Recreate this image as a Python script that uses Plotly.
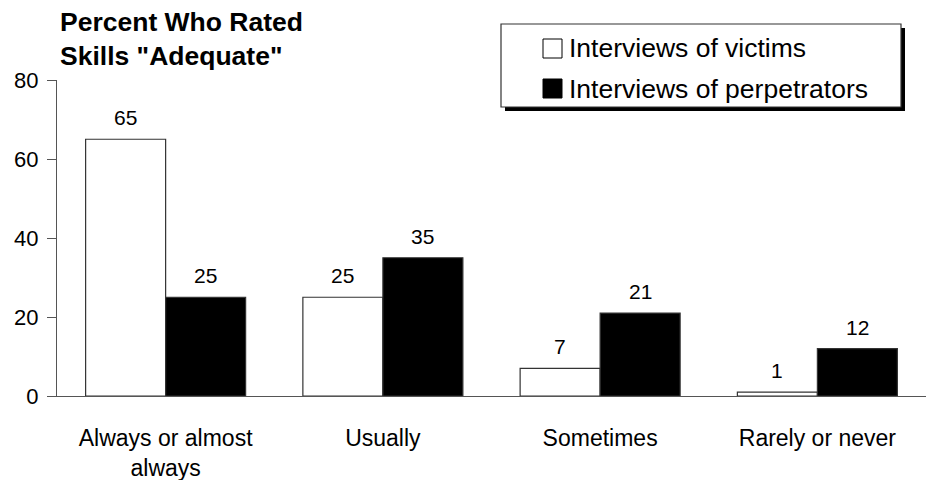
import plotly.graph_objects as go

# Survey results: percent who rated skills "Adequate"
categories = ["Always or almost<br>always", "Usually", "Sometimes", "Rarely or never"]
victims = [65, 25, 7, 1]
perpetrators = [25, 35, 21, 12]
series_names = ["Interviews of victims", "Interviews of perpetrators"]
y_ticks = [0, 20, 40, 60, 80]

FONT = "Arial, Liberation Sans, sans-serif"
W, H = 928, 480
M_L, M_R, M_T, M_B = 57, 2, 80, 84
PW, PH = W - M_L - M_R, H - M_T - M_B


def px_x(p):
    """Pixel column -> paper x."""
    return (p - M_L) / PW


def px_y(p):
    """Pixel row -> paper y."""
    return (H - M_B - p) / PH


fig = go.Figure()
fig.add_trace(go.Bar(
    x=categories, y=victims, name=series_names[0],
    marker=dict(color="white", line=dict(color="#333", width=1.2)),
    showlegend=False,
))
fig.add_trace(go.Bar(
    x=categories, y=perpetrators, name=series_names[1],
    marker=dict(color="black", line=dict(color="#333", width=1.2)),
    showlegend=False,
))

annotations = []
# value labels above each bar
for series, shift in ((victims, -40), (perpetrators, 40)):
    for cat, val in zip(categories, series):
        annotations.append(dict(
            x=cat, y=val, xref="x", yref="y", text=str(val),
            showarrow=False, xshift=shift, yshift=8, yanchor="bottom",
            font=dict(size=21, color="black", family=FONT),
        ))

# chart heading
annotations.append(dict(
    x=px_x(58), y=px_y(5), xref="paper", yref="paper",
    text="<b>Percent Who Rated<br>Skills \"Adequate\"</b>",
    showarrow=False, xanchor="left", yanchor="top", align="left",
    font=dict(size=26.5, color="black", family=FONT),
))

# legend entries
legend_rows = [(series_names[0], "white", 48.5), (series_names[1], "black", 88.5)]
shapes = [
    # legend shadow and frame
    dict(type="rect", xref="paper", yref="paper",
         x0=px_x(505), x1=px_x(905), y0=px_y(111), y1=px_y(28),
         fillcolor="black", line=dict(width=0), layer="above"),
    dict(type="rect", xref="paper", yref="paper",
         x0=px_x(501), x1=px_x(901), y0=px_y(107), y1=px_y(24),
         fillcolor="white", line=dict(color="#333", width=1.2), layer="above"),
]
for label, color, cy in legend_rows:
    shapes.append(dict(
        type="rect", xref="paper", yref="paper",
        x0=px_x(543), x1=px_x(562), y0=px_y(cy + 9.5), y1=px_y(cy - 9.5),
        fillcolor=color, line=dict(color="black", width=1), layer="above",
    ))
    annotations.append(dict(
        x=px_x(567), y=px_y(cy), xref="paper", yref="paper", text=label,
        showarrow=False, xanchor="left", yanchor="middle",
        font=dict(size=26.5, color="black", family=FONT),
    ))

fig.update_layout(
    width=W, height=H,
    margin=dict(l=M_L, r=M_R, t=M_T, b=M_B),
    paper_bgcolor="white", plot_bgcolor="white",
    barmode="group", bargap=0.2635, bargroupgap=0,
    font=dict(family=FONT, color="black"),
    annotations=annotations, shapes=shapes,
    xaxis=dict(
        showgrid=False, showline=True, linecolor="#555", linewidth=1.2,
        ticks="", tickfont=dict(size=23, color="black"),
        ticklabelstandoff=21, automargin=False,
    ),
    yaxis=dict(
        range=[0, 80], tickvals=y_ticks, showgrid=False, zeroline=False,
        showline=True, linecolor="#555", linewidth=1.2,
        ticks="outside", ticklen=9, tickcolor="#555", tickwidth=1.2,
        tickfont=dict(size=22, color="black"), ticklabelstandoff=4,
        automargin=False,
    ),
)

fig.write_html("out.html")
